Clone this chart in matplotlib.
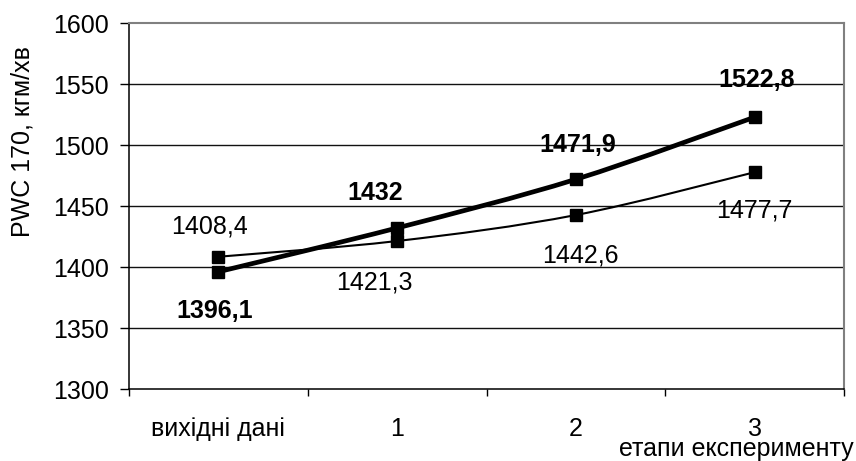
import numpy as np
import matplotlib
matplotlib.use("Agg")
import matplotlib.pyplot as plt
from matplotlib.path import Path
from matplotlib.patches import PathPatch

plt.rcParams['font.family'] = ['Liberation Sans', 'DejaVu Sans']

categories = ["вихідні дані", "1", "2", "3"]
pwc_bold = [1396.1, 1432, 1471.9, 1522.8]
pwc_thin = [1408.4, 1421.3, 1442.6, 1477.7]
labels_bold = ["1396,1", "1432", "1471,9", "1522,8"]
labels_thin = ["1408,4", "1421,3", "1442,6", "1477,7"]
y_ticks = [1300, 1350, 1400, 1450, 1500, 1550, 1600]

# label offsets (points) relative to each marker
offsets_bold = [(-3, -28), (-16, 25), (1.5, 25), (1.5, 26.5)]
offsets_thin = [(-6.5, 21.5), (-16.5, -30), (3, -29), (0, -27.5)]

FS = 18


def smooth_path(xs, ys):
    """Cardinal-spline path through the points (cubic Bezier segments)."""
    pts = np.column_stack([xs, ys]).astype(float)
    ext = np.vstack([pts[0], pts, pts[-1]])
    verts = [pts[0]]
    codes = [Path.MOVETO]
    for i in range(len(pts) - 1):
        p0, p1, p2, p3 = ext[i], ext[i + 1], ext[i + 2], ext[i + 3]
        c1 = p1 + (p2 - p0) / 6.0
        c2 = p2 - (p3 - p1) / 6.0
        verts += [c1, c2, p2]
        codes += [Path.CURVE4] * 3
    return Path(verts, codes)


fig = plt.figure(figsize=(8.56, 4.61), dpi=100)
ax = fig.add_axes([129 / 856, 1 - 389 / 461, 715 / 856, 366 / 461])

x = np.arange(len(categories))
ax.set_xlim(-0.5, len(categories) - 0.5)
ax.set_ylim(y_ticks[0], y_ticks[-1])

# horizontal grid lines
for yv in y_ticks[1:-1]:
    ax.axhline(yv, color='#111111', lw=1.0, zorder=1)

# series lines
ax.add_patch(PathPatch(smooth_path(x, pwc_thin), fill=False, color='black',
                       lw=1.5, zorder=3, capstyle='round', joinstyle='round'))
ax.add_patch(PathPatch(smooth_path(x, pwc_bold), fill=False, color='black',
                       lw=3.4, zorder=4, capstyle='round', joinstyle='round'))
ax.plot(x, pwc_thin, ls='none', marker='s', ms=8, color='black', zorder=5)
ax.plot(x, pwc_bold, ls='none', marker='s', ms=8.5, color='black', zorder=6)

# data labels
for xi, yv, txt, off in zip(x, pwc_thin, labels_thin, offsets_thin):
    ax.annotate(txt, (xi, yv), xytext=off, textcoords='offset points',
                ha='center', va='center', fontsize=FS, zorder=7)
for xi, yv, txt, off in zip(x, pwc_bold, labels_bold, offsets_bold):
    ax.annotate(txt, (xi, yv), xytext=off, textcoords='offset points',
                ha='center', va='center', fontsize=FS, fontweight='bold', zorder=7)

# axes styling
ax.set_yticks(y_ticks)
ax.set_yticklabels([str(v) for v in y_ticks])
ax.tick_params(axis='y', direction='out', length=6.5, width=1.0, pad=8,
               labelsize=FS, colors='black')

ax.set_xticks(np.arange(-0.5, len(categories), 1.0))
ax.set_xticklabels([])
ax.tick_params(axis='x', which='major', direction='out', length=5, width=1.0)
ax.set_xticks(x, minor=True)
ax.set_xticklabels(categories, minor=True)
ax.tick_params(axis='x', which='minor', length=0, pad=20, labelsize=FS)

for side in ('left', 'bottom'):
    ax.spines[side].set_color('black')
    ax.spines[side].set_linewidth(1.1)
for side in ('top', 'right'):
    ax.spines[side].set_color('#808080')
    ax.spines[side].set_linewidth(1.5)

fig.text(23 / 856, 1 - 142 / 461, "PWC 170, кгм/хв", rotation=90,
         ha='center', va='center', fontsize=FS)
fig.text(736 / 856, 1 - 456 / 461, "етапи експерименту",
         ha='center', va='baseline', fontsize=FS)

fig.savefig("out.png", dpi=100)
